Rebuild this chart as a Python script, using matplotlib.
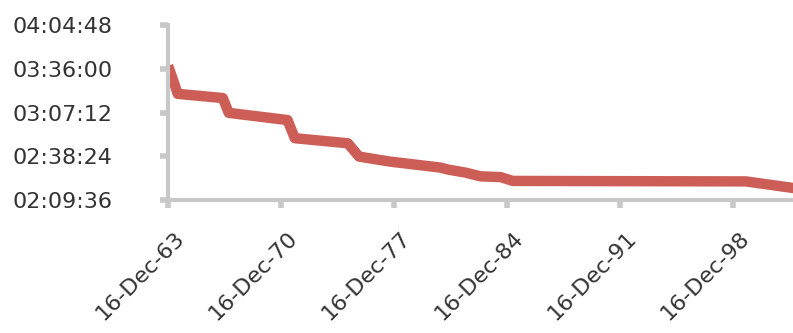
import numpy as np
import pandas as pd
import matplotlib
matplotlib.use("Agg")
import matplotlib.pyplot as plt
import matplotlib.dates as mdates
import matplotlib.transforms as mtransforms
from matplotlib.ticker import FixedLocator, FuncFormatter

# values
dates = ["1963-12-16", "1964-07-21", "1967-05-06", "1967-09-16", "1971-05-09",
         "1971-10-20", "1975-02-01", "1975-10-12", "1977-09-10", "1980-10-26",
         "1981-04-20", "1982-05-15", "1983-04-18", "1984-07-20", "1985-04-21",
         "1999-09-26", "2002-10-13"]
times = ["3:38:00", "3:19:30", "3:16:45", "3:07:00", "3:02:16",
         "2:50:20", "2:47:00", "2:38:15", "2:34:57", "2:31:00",
         "2:29:41", "2:27:42", "2:25:16", "2:24:44", "2:22:14",
         "2:21:55", "2:17:24"]
tick_dates = ["1963-12-16", "1970-12-16", "1977-12-16", "1984-12-16",
              "1991-12-16", "1998-12-16"]


def to_seconds(s):
    h, m, sec = (int(p) for p in s.split(":"))
    return h * 3600 + m * 60 + sec


def hms(v, pos=None):
    v = int(round(v))
    return f"{v // 3600:02d}:{(v % 3600) // 60:02d}:{v % 60:02d}"


x = pd.to_datetime(dates)
y = np.array([to_seconds(t) for t in times])

fig = plt.figure(figsize=(7.93, 3.33), dpi=100)
ax = fig.add_axes([0.212, 0.399, 0.788, 0.526])

ax.plot(x, y, color="#CD5D57", lw=7.5, solid_joinstyle="round",
        solid_capstyle="butt")

ax.set_ylim(to_seconds("2:09:36"), to_seconds("4:04:48"))
ax.yaxis.set_major_locator(FixedLocator(np.arange(to_seconds("2:09:36"),
                                                  to_seconds("4:04:48") + 1, 1728)))
ax.yaxis.set_major_formatter(FuncFormatter(hms))

ax.set_xlim(pd.Timestamp("1963-12-16"), pd.Timestamp("2002-08-27"))
ax.xaxis.set_major_locator(FixedLocator(mdates.date2num(pd.to_datetime(tick_dates))))
ax.xaxis.set_major_formatter(mdates.DateFormatter("%d-%b-%y"))

for side in ["top", "right"]:
    ax.spines[side].set_visible(False)
for side in ["left", "bottom"]:
    ax.spines[side].set_color("#c8c8c8")
    ax.spines[side].set_linewidth(3)

ax.tick_params(axis="both", colors="#c8c8c8", width=4, length=6,
               labelcolor="#333333", labelsize=16)
ax.tick_params(axis="y", pad=34)
ax.tick_params(axis="x", pad=14)

offset = mtransforms.ScaledTranslation(6 / 100, 0, fig.dpi_scale_trans)
for lab in ax.get_xticklabels():
    lab.set_rotation(45)
    lab.set_ha("right")
    lab.set_va("top")
    lab.set_rotation_mode("anchor")
    lab.set_transform(lab.get_transform() + offset)

fig.savefig("out.png", dpi=100)
